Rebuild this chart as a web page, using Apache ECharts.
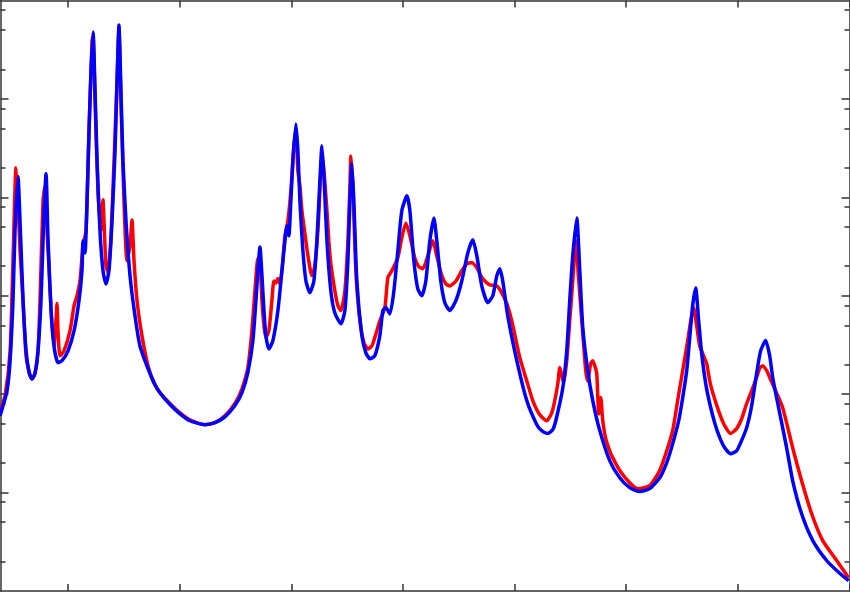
<!DOCTYPE html>
<html>
<head>
<meta charset="utf-8">
<script src="https://cdn.jsdelivr.net/npm/echarts@6/dist/echarts.min.js"></script>
<style>html,body{margin:0;padding:0;background:#fff}#c{width:850px;height:593px}</style>
</head>
<body>
<div id="c"></div>
<script>
// Frequency (Hz) and magnitude (dB)
const freqBlue = [39.1,41.8,45.4,48.1,50.7,52.5,55.2,57.0,59.7,62.4,65.1,67.7,70.4,73.1,75.8,77.6,80.3,82.1,84.8,87.4,91.0,94.6,100.0,105.4,109.8,112.5,113.4,115.2,117.0,118.8,120.6,122.4,124.2,126.0,128.6,131.3,134.0,136.7,139.4,142.1,143.9,145.6,147.4,149.2,151.9,155.5,160.0,164.4,168.9,173.4,177.9,182.3,191.3,200.3,209.2,222.6,231.6,240.5,249.5,255.8,261.1,265.6,268.3,270.1,271.9,273.7,275.5,277.2,279.9,283.5,288.0,291.6,294.3,296.1,297.8,299.6,301.4,304.1,305.9,307.7,310.4,313.1,316.6,320.2,322.9,324.7,326.5,327.4,329.2,331.9,335.4,339.0,344.4,348.0,350.7,352.5,354.2,356.0,358.7,363.2,366.8,370.4,374.8,379.3,382.0,384.7,388.3,391.9,395.4,399.0,403.5,406.2,409.8,413.3,416.9,420.5,424.1,427.7,430.3,433.9,437.5,442.0,447.4,452.7,458.1,462.6,466.2,470.6,476.0,480.5,484.1,486.8,489.4,493.9,502.0,510.9,519.9,524.3,529.7,534.2,536.9,543.2,546.7,549.4,552.1,555.7,558.4,561.1,565.5,570.0,576.3,585.2,594.2,603.1,612.1,621.0,630.0,636.3,641.6,647.0,650.6,654.2,656.9,659.5,662.2,664.9,667.6,671.2,674.8,679.2,683.7,688.2,693.5,698.9,703.4,707.9,712.4,716.8,720.4,724.9,728.5,731.2,735.6,743.7,749.1,757.1,767.0,779.5,791.2,799.2];
const magBlue = [-24.4,-22.3,-19.3,-13.2,-1.0,13.2,24.2,15.2,-1.0,-11.2,-15.6,-16.9,-15.8,-11.2,-1.0,11.2,24.8,11.2,-3.0,-10.2,-13.6,-13.2,-11.2,-7.1,-1.0,5.1,11.2,8.7,19.3,33.5,45.7,53.6,41.6,27.4,13.2,5.1,2.4,5.1,15.2,29.4,43.7,55.0,41.6,27.4,15.2,4.1,-4.1,-10.2,-13.2,-15.8,-18.1,-19.7,-22.1,-24.0,-25.4,-26.2,-25.8,-24.6,-22.3,-19.7,-15.6,-9.1,-1.0,5.1,9.9,4.1,-3.0,-8.1,-10.8,-9.1,-3.0,5.1,11.2,14.2,12.2,19.3,27.4,34.9,29.4,19.3,9.1,3.0,0.6,3.0,11.2,19.3,27.4,30.5,24.4,11.2,1.0,-3.5,-5.7,-3.0,7.1,19.3,26.8,19.3,3.0,-8.1,-11.6,-12.8,-12.2,-8.1,-3.0,-2.4,-3.7,1.0,9.1,17.3,20.3,17.3,7.1,1.4,0.0,3.0,11.2,15.8,11.2,3.0,-1.4,-3.0,-1.0,3.0,8.7,11.4,8.1,2.0,-1.4,0.0,4.1,5.5,3.0,-4.1,-13.2,-21.3,-26.2,-27.4,-28.0,-27.2,-25.4,-18.7,-11.2,-1.0,8.1,15.8,5.1,-6.5,-15.2,-21.3,-27.4,-33.5,-37.0,-39.0,-39.8,-39.2,-37.0,-33.9,-30.1,-25.4,-20.7,-15.2,-8.5,-2.0,1.6,-5.1,-11.8,-17.9,-21.9,-25.8,-28.8,-30.9,-32.1,-31.5,-29.4,-26.8,-22.3,-15.8,-11.2,-9.1,-12.2,-16.6,-21.7,-30.9,-37.6,-44.3,-49.7,-53.8,-56.4,-57.9];
const freqRed = [39.1,43.6,48.1,50.7,53.4,55.2,57.0,59.7,62.4,66.0,67.7,70.4,73.1,74.9,77.6,79.4,81.2,83.0,84.8,87.4,89.2,90.1,91.0,92.8,96.4,101.8,105.4,108.0,110.7,113.4,116.1,118.8,121.5,122.4,124.2,126.8,129.5,131.3,132.2,134.0,135.8,138.5,141.2,143.9,145.6,147.4,150.1,152.8,155.5,157.3,159.1,161.8,166.2,171.6,177.0,182.3,191.3,200.3,209.2,222.6,231.6,240.5,249.5,255.8,261.1,264.7,267.4,270.1,271.9,273.7,275.5,277.2,279.9,282.6,284.4,286.2,288.0,289.8,291.6,294.3,296.9,299.6,302.3,304.1,305.9,307.7,309.5,312.2,314.9,318.4,321.1,323.8,325.6,327.4,329.2,331.9,333.6,335.4,339.0,341.7,344.4,348.0,350.7,352.5,353.4,355.1,357.8,361.4,365.0,368.6,372.2,374.8,379.3,383.8,386.5,390.1,395.4,399.0,402.6,406.2,410.6,414.2,417.8,422.3,426.8,430.3,434.8,438.4,442.0,447.4,452.7,457.2,461.7,466.2,469.7,473.3,477.8,484.1,488.5,493.0,497.5,504.7,510.9,516.3,522.6,528.8,533.3,536.0,538.7,540.5,542.3,544.0,546.7,549.4,552.1,554.8,557.5,561.1,563.7,565.5,568.2,570.0,571.8,573.6,575.4,577.2,579.0,581.6,585.2,587.9,594.2,603.1,610.3,621.0,630.0,636.3,641.6,646.1,650.6,655.1,657.8,660.4,663.1,665.8,667.6,670.3,672.1,674.8,677.5,683.7,688.2,693.5,698.9,703.4,707.9,712.4,716.8,719.5,722.2,725.8,728.5,733.0,740.1,749.1,757.1,766.1,775.9,788.5,799.2];
const magRed = [-23.4,-20.3,-11.2,7.1,26.0,19.3,9.1,-1.0,-12.2,-16.2,-16.9,-15.8,-11.2,-1.0,19.3,22.3,13.2,5.5,-3.0,-10.2,-5.1,-1.6,-7.1,-12.2,-11.2,-7.1,-2.0,0.0,3.0,10.2,13.2,33.5,51.8,52.8,39.6,21.3,13.2,19.5,15.2,6.1,4.7,12.2,27.4,43.7,53.8,39.6,19.3,7.1,10.2,15.4,7.1,-1.0,-8.1,-14.2,-17.7,-19.7,-21.9,-23.8,-25.2,-26.2,-25.8,-24.4,-21.9,-18.9,-14.6,-7.1,1.0,7.5,6.7,-1.0,-6.1,-8.5,-7.1,-1.0,3.0,2.6,3.5,2.4,5.1,12.2,15.2,21.3,30.5,33.5,25.4,22.3,17.3,12.6,8.1,4.1,6.1,13.2,21.3,28.4,25.4,17.3,11.2,6.5,1.0,-2.0,-3.0,1.0,11.2,22.3,28.4,22.3,5.1,-5.1,-9.5,-10.8,-10.2,-8.5,-5.1,-2.4,3.7,5.1,7.7,11.8,14.8,12.2,7.7,5.9,5.5,8.1,11.2,8.1,4.1,2.4,2.0,3.0,5.1,6.5,6.7,5.7,4.1,3.0,2.2,2.0,0.6,-1.6,-5.1,-12.6,-17.3,-21.3,-24.2,-25.4,-23.8,-21.3,-17.9,-14.6,-16.2,-17.7,-13.2,-5.1,3.0,11.2,3.0,-7.7,-15.2,-17.3,-13.8,-13.2,-14.2,-15.8,-24.0,-20.7,-25.4,-29.0,-31.5,-32.9,-35.5,-38.0,-39.2,-38.6,-35.5,-31.5,-27.4,-21.3,-15.2,-9.1,-5.1,-2.4,-6.1,-10.2,-11.2,-12.8,-13.8,-17.3,-19.7,-24.0,-26.4,-28.0,-27.0,-25.0,-21.9,-19.3,-16.6,-14.8,-14.2,-15.2,-16.6,-18.9,-22.7,-30.9,-37.6,-44.3,-49.7,-53.8,-57.3];
const xTicks = [100,200,300,400,500,600,700,800];
const yMajor = [-40,-20,0,20,40];
const yMinor = [-53.98,-46.02,-41.94,-33.98,-26.02,-21.94,-13.98,-6.02,-1.94,6.02,13.98,18.06,26.02,33.98,38.06,46.02,53.98,58.06];

const X_MIN = 39.5, X_MAX = 800, Y_MIN = -60, Y_MAX = 60;
const frame = '#333';
const pair = (xs, ys) => xs.map((x, i) => [x, ys[i]]);

function xAx(pos) {
  return {type:'value', position:pos, min:X_MIN, max:X_MAX,
    axisLine:{show:true, onZero:false, lineStyle:{color:frame, width:1.5}},
    axisTick:{show:true, inside:true, length:7, customValues:xTicks, lineStyle:{color:frame, width:1.5}},
    axisLabel:{show:false}, splitLine:{show:false}};
}
function yAx(pos, major) {
  return {type:'value', position:pos, min:Y_MIN, max:Y_MAX,
    axisLine:{show:major, onZero:false, lineStyle:{color:frame, width:1.5}},
    axisTick:{show:true, inside:true, length: major ? 8 : 5, customValues: major ? yMajor : yMinor, lineStyle:{color:frame, width:1.5}},
    axisLabel:{show:false}, splitLine:{show:false}};
}

const chart = echarts.init(document.getElementById('c'), null, {renderer:'canvas'});
chart.setOption({
  animation:false,
  backgroundColor:'#fff',
  grid:{left:0.5, right:0.5, top:0.5, bottom:2, containLabel:false},
  xAxis:[xAx('bottom'), xAx('top')],
  yAxis:[yAx('left', true), yAx('left', false), yAx('right', true), yAx('right', false)],
  series:[
    {type:'line', name:'red', data:pair(freqRed, magRed), showSymbol:false, symbol:'none', smooth:0.2,
      lineStyle:{color:'#ff0000', width:3.5}, z:2},
    {type:'line', name:'blue', data:pair(freqBlue, magBlue), showSymbol:false, symbol:'none', smooth:0.2,
      lineStyle:{color:'#0000ff', width:3.5}, z:3}
  ]
});
</script>
</body>
</html>
